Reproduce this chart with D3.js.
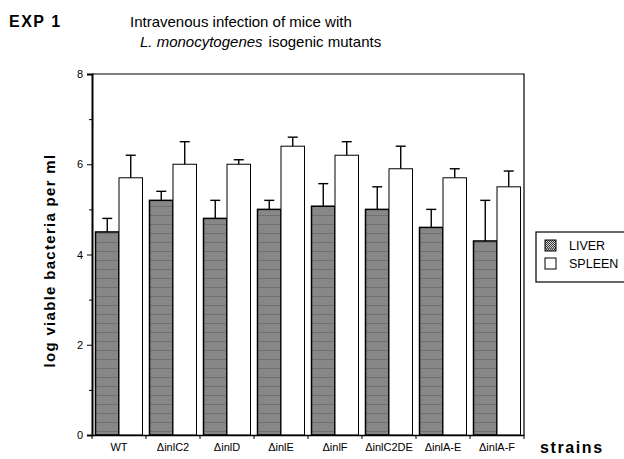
<!DOCTYPE html>
<html>
<head>
<meta charset="utf-8">
<script src="https://cdn.jsdelivr.net/npm/d3@7"></script>
<style>
  body { margin: 0; background: #fff; }
  svg { display: block; font-family: "Liberation Sans", Arial, sans-serif; }
  .axis path, .axis line { stroke: #000; }
  .axis text { font-size: 11px; fill: #000; }
</style>
</head>
<body>
<svg id="chart" width="624" height="459"></svg>
<script>
// values
var strains = ["WT", "\u0394inlC2", "\u0394inlD", "\u0394inlE", "\u0394inlF", "\u0394inlC2DE", "\u0394inlA-E", "\u0394inlA-F"];
var liver = [4.5, 5.2, 4.8, 5.0, 5.07, 5.0, 4.6, 4.3];
var liverSd = [0.3, 0.2, 0.4, 0.2, 0.5, 0.5, 0.4, 0.9];
var spleen = [5.7, 6.0, 6.0, 6.4, 6.2, 5.9, 5.7, 5.5];
var spleenSd = [0.5, 0.5, 0.1, 0.2, 0.3, 0.5, 0.2, 0.35];
var organs = ["LIVER", "SPLEEN"];
var yTicks = [0, 2, 4, 6, 8];

var svg = d3.select("#chart");
var margin = {left: 92, right: 100, top: 74, bottom: 24};

// checker texture for the liver bars
var defs = svg.append("defs");
var pat = defs.append("pattern")
    .attr("id", "tex")
    .attr("patternUnits", "userSpaceOnUse")
    .attr("width", 2).attr("height", 9);
pat.append("rect").attr("width", 2).attr("height", 9).attr("fill", "#d4d4d4");
for (var r = 0; r < 9; r++) {
  pat.append("rect").attr("x", r % 2).attr("y", r).attr("width", 1).attr("height", 1).attr("fill", "#3a3a3a");
}
pat.append("rect").attr("x", 0).attr("y", 8).attr("width", 2).attr("height", 1).attr("fill", "#707070");

var x0 = d3.scaleBand()
    .domain(strains)
    .range([margin.left, 524])
    .paddingInner(0.13)
    .paddingOuter(0.065);

var x1 = d3.scaleBand()
    .domain(organs)
    .range([0, x0.bandwidth()]);

var y = d3.scaleLinear()
    .domain([0, 8])
    .range([435, margin.top]);

var fills = {LIVER: "url(#tex)", SPLEEN: "#fff"};

// frame (top + right)
svg.append("path")
    .attr("d", "M" + margin.left + "," + y(8) + "H524V" + y(0))
    .attr("fill", "none")
    .attr("stroke", "#000")
    .attr("stroke-width", 1.2);

var groups = svg.selectAll("g.grp")
    .data(strains)
    .enter().append("g")
    .attr("class", "grp")
    .attr("transform", function(d) { return "translate(" + x0(d) + ",0)"; });

groups.each(function(s, i) {
  var g = d3.select(this);
  var rows = [
    {organ: "LIVER", v: liver[i], sd: liverSd[i]},
    {organ: "SPLEEN", v: spleen[i], sd: spleenSd[i]}
  ];
  g.selectAll("rect")
    .data(rows)
    .enter().append("rect")
    .attr("x", function(d) { return x1(d.organ); })
    .attr("y", function(d) { return y(d.v); })
    .attr("width", x1.bandwidth())
    .attr("height", function(d) { return y(0) - y(d.v); })
    .attr("fill", function(d) { return fills[d.organ]; })
    .attr("stroke", "#000")
    .attr("stroke-width", function(d) { return d.organ == "LIVER" ? 1.5 : 1; });

  // error bars, upper half only
  var eb = g.selectAll("g.err")
    .data(rows)
    .enter().append("g")
    .attr("class", "err")
    .attr("stroke", "#000")
    .attr("stroke-width", 1.4);
  eb.append("line")
    .attr("x1", function(d) { return x1(d.organ) + x1.bandwidth() / 2; })
    .attr("x2", function(d) { return x1(d.organ) + x1.bandwidth() / 2; })
    .attr("y1", function(d) { return y(d.v); })
    .attr("y2", function(d) { return y(d.v + d.sd); });
  eb.append("line")
    .attr("x1", function(d) { return x1(d.organ) + x1.bandwidth() / 2 - 5; })
    .attr("x2", function(d) { return x1(d.organ) + x1.bandwidth() / 2 + 5; })
    .attr("y1", function(d) { return y(d.v + d.sd); })
    .attr("y2", function(d) { return y(d.v + d.sd); });
});

// y axis
var yAxis = svg.append("g")
    .attr("class", "axis axis--y")
    .attr("transform", "translate(" + margin.left + ",0)")
    .call(d3.axisLeft(y).tickValues(yTicks).tickSize(5).tickPadding(4).tickFormat(d3.format("d")));
yAxis.select(".domain").attr("stroke-width", 2);
svg.append("g")
    .attr("class", "axis")
    .attr("transform", "translate(" + margin.left + ",0)")
    .call(d3.axisLeft(y).tickValues([1, 3, 5, 7]).tickSize(3).tickFormat(""))
    .select(".domain").remove();

// x axis: ticks at group boundaries, labels centred
var xAxis = svg.append("g")
    .attr("class", "axis axis--x")
    .attr("transform", "translate(0," + y(0) + ")")
    .call(d3.axisBottom(x0).tickSize(0).tickPadding(8).tickSizeOuter(0));
xAxis.select(".domain").attr("stroke-width", 1.5);
xAxis.selectAll("text").attr("font-size", "10.5px");
var bounds = strains.map(function(d) { return x0(d) - x0.step() * x0.paddingInner() / 2; });
bounds.push(524);
xAxis.selectAll("line.bnd")
    .data(bounds)
    .enter().append("line")
    .attr("class", "bnd")
    .attr("x1", function(d) { return d; })
    .attr("x2", function(d) { return d; })
    .attr("y1", 0).attr("y2", 4)
    .attr("stroke", "#000");

svg.append("text")
    .attr("x", 540).attr("y", 453)
    .attr("font-size", "16px")
    .attr("font-weight", "bold")
    .attr("letter-spacing", "1.6px")
    .text("strains");

// y label
svg.append("text")
    .attr("transform", "translate(55," + ((y(0) + y(8)) / 2 + 6) + ") rotate(-90)")
    .attr("text-anchor", "middle")
    .attr("font-size", "15px")
    .attr("font-weight", "bold")
    .attr("letter-spacing", "1.3px")
    .text("log viable bacteria per ml");

// titles
svg.append("text")
    .attr("x", 9).attr("y", 27)
    .attr("font-size", "16px")
    .attr("font-weight", "bold")
    .attr("letter-spacing", "1.5px")
    .text("EXP 1");
svg.append("text")
    .attr("x", 130).attr("y", 27)
    .attr("font-size", "15px")
    .text("Intravenous infection of mice with");
var t2 = svg.append("text")
    .attr("x", 140).attr("y", 47)
    .attr("font-size", "15px");
t2.append("tspan").attr("font-style", "italic").text("L. monocytogenes");
t2.append("tspan").attr("dx", "6").text("isogenic mutants");

// legend
var leg = svg.append("g").attr("transform", "translate(536,232)");
leg.append("rect")
    .attr("width", 100).attr("height", 50)
    .attr("fill", "#fff").attr("stroke", "#000").attr("stroke-width", 1.2);
var li = leg.selectAll("g.li")
    .data(organs)
    .enter().append("g")
    .attr("class", "li")
    .attr("transform", function(d, i) { return "translate(0," + (8 + i * 18) + ")"; });
li.append("rect")
    .attr("x", 9).attr("width", 11).attr("height", 11)
    .attr("fill", function(d) { return fills[d]; })
    .attr("stroke", "#000");
li.append("text")
    .attr("x", 33).attr("y", 10)
    .attr("font-size", "12.5px")
    .text(function(d) { return d; });
</script>
</body>
</html>
